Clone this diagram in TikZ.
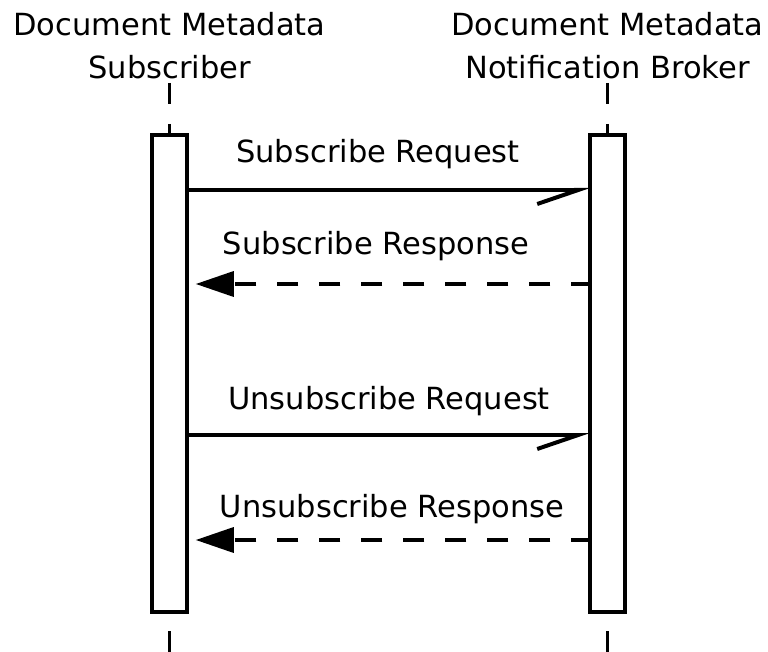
\documentclass[tikz,border=0pt]{standalone}
\usepackage{fontspec}
\setmainfont{DejaVu Sans}
\usetikzlibrary{arrows.meta, positioning}

\begin{document}
\begin{tikzpicture}[x=1pt, y=-1pt,
	every node/.style={font=\fontsize{30.5}{43}\selectfont, inner sep=0pt},
	actbox/.style={draw, line width=3.5pt, minimum width=35pt, minimum height=477pt},
	lifeline/.style={line width=2.2pt, dash pattern=on 21pt off 20pt},
	callmsg/.style={line width=3.5pt, -{Straight Barb[right, length=41pt, width=28pt, line width=4pt]}, shorten >=-2pt},
	replymsg/.style={line width=3.5pt, dash pattern=on 21pt off 21pt, dash phase=4pt, -{Triangle[length=38pt, width=25pt]}, shorten >=7pt},
	msglabel/.style={anchor=base}]

\useasboundingbox (0,0) rectangle (768,652);

\def \xsub{169.5} % subscriber
\def \xbrk{607.5} % broker

% headers
\node[anchor=base] (subtitle) at (\xsub, 36) {Document Metadata};
\node[anchor=base] (subname)  at (\xsub, 79) {Subscriber};
\node[anchor=base] (brktitle) at (\xbrk, 36) {Document Metadata};
\node[anchor=base] (brkname)  at (\xbrk, 79) {Notification Broker};

% activation boxes
\node[actbox] (subbox) at (\xsub, 373.5) {};
\node[actbox] (brkbox) at (\xbrk, 373.5) {};

% lifelines
\draw[lifeline] (subbox.north |- 0,83)  -- (subbox.north);
\draw[lifeline] (subbox.south |- 0,652) -- (subbox.south);
\draw[lifeline] (brkbox.north |- 0,83)  -- (brkbox.north);
\draw[lifeline] (brkbox.south |- 0,652) -- (brkbox.south);

% requests
\foreach \name/\yy/\xl/\yl/\txt in {sreq/190/378/163/Subscribe Request, ureq/435/389/409/Unsubscribe Request} {
	\coordinate (\name a) at (subbox.east |- 0,\yy);
	\coordinate (\name b) at (brkbox.west |- 0,\yy);
	\draw[callmsg] (\name a) -- (\name b);
	\node[msglabel] (\name label) at (\xl, \yl) {\txt};
}

% responses
\foreach \name/\yy/\xl/\yl/\txt in {srsp/284/376/255/Subscribe Response, ursp/540/392/517/Unsubscribe Response} {
	\coordinate (\name a) at (subbox.east |- 0,\yy);
	\coordinate (\name b) at (brkbox.west |- 0,\yy);
	\draw[replymsg] (\name b) -- (\name a);
	\node[msglabel] (\name label) at (\xl, \yl) {\txt};
}

\end{tikzpicture}
\end{document}
